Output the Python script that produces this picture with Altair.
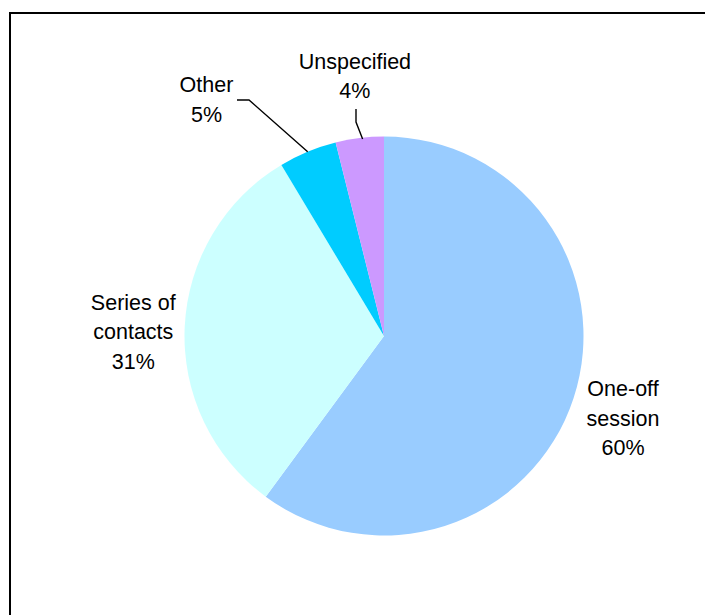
import math
import altair as alt
import pandas as pd

# ---- data ----
categories = ["One-off session", "Series of contacts", "Other", "Unspecified"]
values = [60.1, 31.3, 4.7, 3.9]
label_lines = [["One-off", "session", "60%"],
               ["Series of", "contacts", "31%"],
               ["Other", "5%"],
               ["Unspecified", "4%"]]
colors = ["#99CCFF", "#CCFFFF", "#00CCFF", "#CC99FF"]

# ---- layout (styling) ----
CX, CY, R = 384, 336, 199.5
label_radius = [252.6, 251, 260, 262.6]
label_nudge = [(-1, 3), (0, 7), (-78, 3), (3, 0)]
FONT = "Liberation Sans"
FS = 21.5
LH = 29.5

total = sum(values)
mids = []
acc = 0.0
for v in values:
    mids.append((acc + v / 2) / total * 2 * math.pi)
    acc += v

def polar(a, r):
    return CX + r * math.sin(a), CY - r * math.cos(a)

pie_df = pd.DataFrame({"category": categories, "value": values,
                       "idx": list(range(len(categories)))})

lab_rows = []
for i, c in enumerate(categories):
    x, y = polar(mids[i], label_radius[i])
    n = len(label_lines[i])
    # Vega anchors the first line at y, so shift to centre the text block
    y_first = y + label_nudge[i][1] - (n - 1) * LH / 2 + 2
    lab_rows.append({"category": c, "text": "\n".join(label_lines[i]),
                     "x": x + label_nudge[i][0], "y": y_first})
lab_df = pd.DataFrame(lab_rows)

# leader lines for the two small slices: label side -> elbow -> slice rim
lead_rows = []
ox, oy = polar(mids[2], R)
for k, (x, y) in enumerate([(237, 100), (249, 100), (ox, oy)]):
    lead_rows.append({"g": "Other", "k": k, "x": x, "y": y})
ux, uy = polar(mids[3], R)
for k, (x, y) in enumerate([(356, 109), (356, 122), (ux + 3, uy + 1)]):
    lead_rows.append({"g": "Unspecified", "k": k, "x": x, "y": y})
lead_df = pd.DataFrame(lead_rows)

pie = alt.Chart(pie_df).mark_arc(radius=R, strokeWidth=0).encode(
    theta=alt.Theta("value:Q", stack=True),
    order=alt.Order("idx:Q"),
    color=alt.Color("category:N", scale=alt.Scale(domain=categories, range=colors), legend=None),
    x=alt.value(CX),
    y=alt.value(CY),
)

labels = alt.Chart(lab_df).mark_text(
    font=FONT, fontSize=FS, lineHeight=LH, lineBreak="\n",
    align="center", baseline="middle", color="black"
).encode(
    x=alt.X("x:Q", scale=None, axis=None),
    y=alt.Y("y:Q", scale=None, axis=None),
    text="text:N",
)

leaders = alt.Chart(lead_df).mark_line(color="black", strokeWidth=1.4).encode(
    x=alt.X("x:Q", scale=None, axis=None),
    y=alt.Y("y:Q", scale=None, axis=None),
    detail="g:N",
    order="k:Q",
)

frame_top = alt.Chart(pie_df).mark_rule(color="black", strokeWidth=2).encode(
    x=alt.value(9), x2=alt.value(740), y=alt.value(13)
)
frame_left = alt.Chart(pie_df).mark_rule(color="black", strokeWidth=2).encode(
    x=alt.value(10), y=alt.value(12), y2=alt.value(640)
)

chart = alt.layer(pie, leaders, labels, frame_top, frame_left).properties(
    width=705, height=615,
    autosize=alt.AutoSizeParams(type="none"),
    padding=0,
    background="white",
).configure_view(stroke=None)

chart.save("out.html", embed_options={"renderer": "svg", "actions": False})
